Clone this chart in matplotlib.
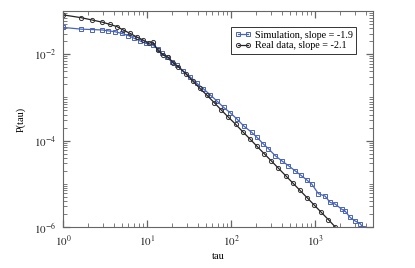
import matplotlib
matplotlib.use("Agg")
import matplotlib.pyplot as plt
from matplotlib.ticker import FixedLocator, LogLocator, NullFormatter, FuncFormatter

# ---- data ----
sim_tau = [1.0, 1.64, 2.23, 2.94, 3.46, 4.16, 5.0, 6.0, 7.0, 8.2, 9.7, 11.7, 13.4, 14.9,
           17.2, 19.6, 22.6, 26.9, 32.4, 38.9, 46.8, 56.2, 67.6, 81.3, 97.7, 117.5, 141,
           176, 202, 243, 278, 334, 401, 481, 578, 676, 794, 914, 1094, 1314, 1510, 1730,
           2080, 2277, 2612, 2993, 3436, 3758]
sim_p = [0.0417, 0.0380, 0.0372, 0.0363, 0.0347, 0.0331, 0.0302, 0.0269, 0.0234, 0.0204,
         0.0178, 0.0162, 0.0135, 0.0105, 0.0087, 0.0066, 0.0055, 0.0041, 0.0030, 0.00214,
         0.00158, 0.00115, 8.3e-4, 5.9e-4, 4.4e-4, 3.16e-4, 2.19e-4, 1.55e-4, 1.20e-4,
         8.3e-5, 6.5e-5, 4.5e-5, 3.4e-5, 2.63e-5, 2.0e-5, 1.58e-5, 1.23e-5, 9.8e-6, 5.9e-6,
         5.2e-6, 3.7e-6, 3.4e-6, 2.57e-6, 2.34e-6, 1.66e-6, 1.38e-6, 1.20e-6, 0.95e-6]

real_tau = [1.0, 1.64, 2.23, 2.94, 3.6, 4.35, 5.2, 6.3, 7.5, 8.9, 10.4, 11.7, 13.4, 15.6,
            17.9, 20.5, 23.6, 28.7, 34.9, 42.5, 51.6, 62.8, 76.4, 92.9, 113, 137, 167, 203,
            247, 301, 366, 445, 541, 658, 800, 973, 1183, 1439, 1738]
real_p = [0.0813, 0.070, 0.0617, 0.055, 0.049, 0.0437, 0.0363, 0.0302, 0.0251, 0.0214,
          0.0178, 0.0191, 0.0123, 0.00955, 0.0085, 0.0063, 0.0051, 3.55e-3, 2.40e-3,
          1.62e-3, 1.12e-3, 7.6e-4, 5.1e-4, 3.47e-4, 2.40e-4, 1.62e-4, 1.10e-4, 7.4e-5,
          5.0e-5, 3.39e-5, 2.29e-5, 1.55e-5, 1.05e-5, 7.1e-6, 4.8e-6, 3.24e-6, 2.19e-6,
          1.48e-6, 1.0e-6]

sim_label = "Simulation, slope = -1.9"
real_label = "Real data, slope = -2.1"
x_label = "tau"
y_label = "P(tau)"

plt.rcParams['mathtext.fontset'] = 'stix'
plt.rcParams['font.family'] = ['Liberation Serif', 'DejaVu Serif']

fig = plt.figure(figsize=(4.15, 2.68), dpi=100)
ax = fig.add_axes([0.152, 0.153, 0.747, 0.806])

blue = '#4a64b8'
ax.plot(sim_tau, sim_p, color=blue, lw=0.9, marker='s', ms=2.7, mfc='none',
        mec=blue, mew=0.7, label=sim_label, clip_on=True)
ax.plot(real_tau, real_p, color='#222222', lw=0.9, marker='o', ms=3.0, mfc='none',
        mec='#333333', mew=0.7, label=real_label, clip_on=True)

ax.set_xscale('log')
ax.set_yscale('log')
ax.set_xlim(1, 4900)
ax.set_ylim(1e-6, 1e-1)

ax.xaxis.set_major_locator(FixedLocator([1, 10, 100, 1000]))
ax.xaxis.set_minor_locator(LogLocator(base=10, subs=range(2, 10), numticks=20))
ax.yaxis.set_major_locator(FixedLocator([1e-6, 1e-4, 1e-2]))
ax.yaxis.set_minor_locator(FixedLocator(
    [m * 10.0 ** e for e in range(-6, -1) for m in range(2, 10)] + [1e-5, 1e-3, 1e-1]))
ax.xaxis.set_minor_formatter(NullFormatter())
ax.yaxis.set_minor_formatter(NullFormatter())

def fmt(v, pos):
    import math
    e = int(round(math.log10(v)))
    return r'$10^{%d}$' % e
ax.xaxis.set_major_formatter(FuncFormatter(fmt))
ax.yaxis.set_major_formatter(FuncFormatter(fmt))

gray = '#666666'
for s in ax.spines.values():
    s.set_color(gray)
    s.set_linewidth(0.8)
ax.tick_params(which='both', direction='in', top=True, right=True, color=gray,
               labelsize=8, labelcolor='#222222')
ax.tick_params(which='major', length=5, width=0.9, pad=5)
ax.tick_params(which='minor', length=3, width=0.6)

ax.set_xlabel(x_label, fontsize=7.5, labelpad=2)
ax.set_ylabel(y_label, fontsize=7.5, labelpad=6)

leg = ax.legend(loc='upper right', bbox_to_anchor=(0.945, 0.925), fontsize=7.3,
                numpoints=2, handlelength=1.6, handletextpad=0.35, borderpad=0.35,
                labelspacing=0.15, fancybox=False, framealpha=1, borderaxespad=0)
leg.get_frame().set_edgecolor('#333333')
leg.get_frame().set_linewidth(0.7)

fig.savefig('out.png', dpi=100)
